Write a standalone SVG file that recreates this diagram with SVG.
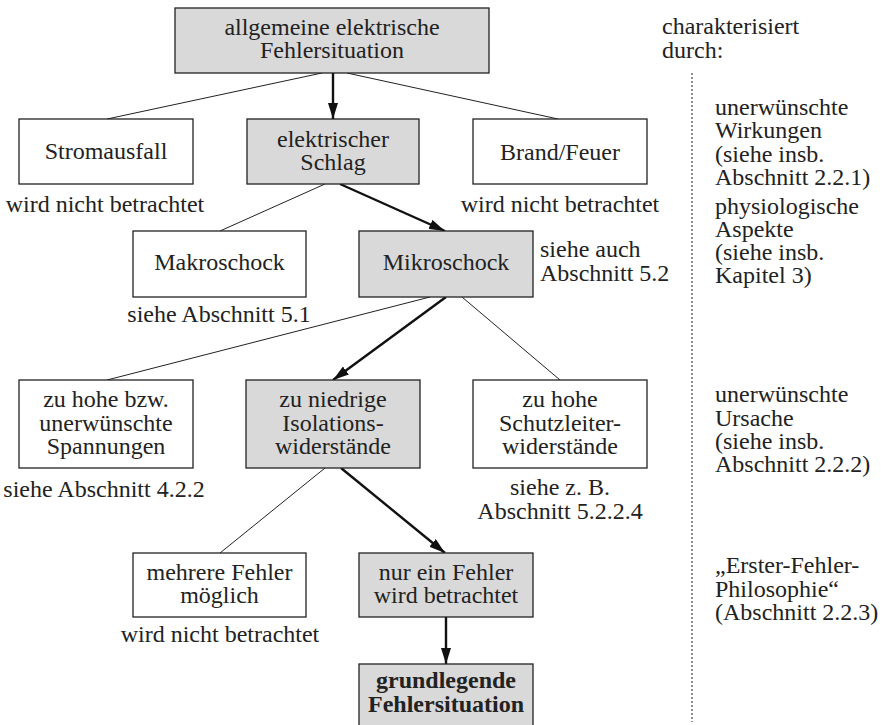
<svg xmlns="http://www.w3.org/2000/svg" width="884" height="725" viewBox="0 0 884 725">
<style>
text{font-family:"Liberation Serif","Times New Roman",serif;font-size:24px;fill:#222}
.c{text-anchor:middle}
.b{font-weight:bold}
.box{stroke:#222;stroke-width:1.3;fill:#fff}
.g{fill:#d9d9d9}
.thin{stroke:#222;stroke-width:1;fill:none}
.bold{stroke:#111;stroke-width:2.4;fill:none;marker-end:url(#ah)}
.dot{stroke:#444;stroke-width:1.2;stroke-dasharray:2 2;fill:none}
</style>
<defs>
<marker id="ah" markerUnits="userSpaceOnUse" markerWidth="17" markerHeight="10" refX="16" refY="5" orient="auto">
<path d="M0,0 L16,5 L0,10 z" fill="#111"/>
</marker>
</defs>
<rect width="884" height="725" fill="#fff"/>
<g id="connectors">
<line class="thin" x1="322" y1="73" x2="107" y2="119"/>
<line class="bold" x1="333" y1="73" x2="333" y2="119"/>
<line class="thin" x1="347" y1="73" x2="558" y2="119"/>
<line class="thin" x1="325" y1="184" x2="220" y2="231"/>
<line class="bold" x1="340" y1="184" x2="445" y2="231"/>
<line class="thin" x1="430" y1="297" x2="107" y2="380"/>
<line class="bold" x1="446" y1="297" x2="333" y2="380"/>
<line class="thin" x1="462" y1="297" x2="560" y2="380"/>
<line class="thin" x1="325" y1="468" x2="220" y2="553"/>
<line class="bold" x1="341" y1="468" x2="445" y2="553"/>
<line class="bold" x1="446" y1="617" x2="446" y2="664"/>
</g>
<g id="n-allgemein">
<rect class="box g" x="175" y="8" width="314" height="65"/>
<text class="c" x="332" y="35">allgemeine elektrische</text>
<text class="c" x="332" y="58">Fehlersituation</text>
</g>
<g id="n-strom">
<rect class="box" x="19" y="119" width="174" height="65"/>
<text class="c" x="106" y="159">Stromausfall</text>
<text class="c" x="105" y="212">wird nicht betrachtet</text>
</g>
<g id="n-schlag">
<rect class="box g" x="247" y="119" width="172" height="65"/>
<text class="c" x="333" y="147">elektrischer</text>
<text class="c" x="333" y="170">Schlag</text>
</g>
<g id="n-brand">
<rect class="box" x="473" y="119" width="174" height="65"/>
<text class="c" x="560" y="160">Brand/Feuer</text>
<text class="c" x="560" y="212">wird nicht betrachtet</text>
</g>
<g id="n-makro">
<rect class="box" x="133" y="231" width="173" height="66"/>
<text class="c" x="219.5" y="270">Makroschock</text>
<text class="c" x="219" y="322">siehe Abschnitt 5.1</text>
</g>
<g id="n-mikro">
<rect class="box g" x="359" y="231" width="174" height="66"/>
<text class="c" x="446" y="270">Mikroschock</text>
<text x="540" y="257">siehe auch</text>
<text x="540" y="281">Abschnitt 5.2</text>
</g>
<g id="n-spannung">
<rect class="box" x="19" y="380" width="174" height="88"/>
<text class="c" x="106" y="407">zu hohe bzw.</text>
<text class="c" x="106" y="431">unerwünschte</text>
<text class="c" x="106" y="454">Spannungen</text>
<text class="c" x="104" y="497">siehe Abschnitt 4.2.2</text>
</g>
<g id="n-isolation">
<rect class="box g" x="246" y="380" width="174" height="88"/>
<text class="c" x="333" y="407">zu niedrige</text>
<text class="c" x="333" y="431">Isolations-</text>
<text class="c" x="333" y="454">widerstände</text>
</g>
<g id="n-schutz">
<rect class="box" x="473" y="380" width="174" height="88"/>
<text class="c" x="560" y="407">zu hohe</text>
<text class="c" x="560" y="431">Schutzleiter-</text>
<text class="c" x="560" y="454">widerstände</text>
<text class="c" x="560" y="495">siehe z. B.</text>
<text class="c" x="560" y="519">Abschnitt 5.2.2.4</text>
</g>
<g id="n-mehrere">
<rect class="box" x="133" y="553" width="173" height="64"/>
<text class="c" x="219.5" y="580">mehrere Fehler</text>
<text class="c" x="219.5" y="603">möglich</text>
<text class="c" x="220" y="642">wird nicht betrachtet</text>
</g>
<g id="n-einer">
<rect class="box g" x="359" y="553" width="174" height="64"/>
<text class="c" x="446" y="580">nur ein Fehler</text>
<text class="c" x="446" y="603">wird betrachtet</text>
</g>
<g id="n-grund">
<rect class="box g" x="359" y="664" width="174" height="64"/>
<text class="c b" x="446" y="688">grundlegende</text>
<text class="c b" x="446" y="712">Fehlersituation</text>
</g>
<g id="legend">
<line class="dot" x1="692" y1="73" x2="692" y2="722"/>
<text x="662" y="34">charakterisiert</text>
<text x="662" y="58">durch:</text>
<text x="715" y="115">unerwünschte</text>
<text x="715" y="138">Wirkungen</text>
<text x="715" y="162">(siehe insb.</text>
<text x="715" y="185">Abschnitt 2.2.1)</text>
<text x="715" y="214">physiologische</text>
<text x="715" y="237">Aspekte</text>
<text x="715" y="260">(siehe insb.</text>
<text x="715" y="283">Kapitel 3)</text>
<text x="715" y="402">unerwünschte</text>
<text x="715" y="426">Ursache</text>
<text x="715" y="449">(siehe insb.</text>
<text x="715" y="472">Abschnitt 2.2.2)</text>
<text x="715" y="573">„Erster-Fehler-</text>
<text x="715" y="597">Philosophie“</text>
<text x="715" y="620">(Abschnitt 2.2.3)</text>
</g>
</svg>
